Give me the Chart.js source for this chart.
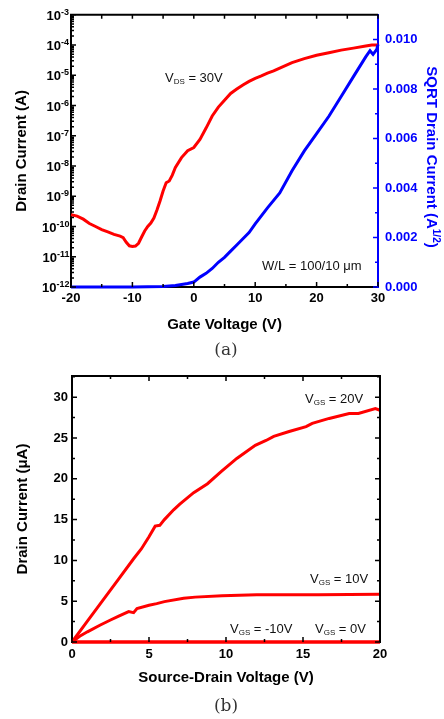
<!DOCTYPE html>
<html>
<head>
<meta charset="utf-8">
<script src="https://cdn.jsdelivr.net/npm/chart.js@4.4.0/dist/chart.umd.min.js"></script>
<style>
body { margin:0; background:#fff; width:444px; height:719px; position:relative; overflow:hidden; }
canvas { position:absolute; left:0; }
#ca { top:0; }
#cb { top:360px; }
.cap { position:absolute; width:444px; text-align:center; font-family:'DejaVu Serif','Liberation Serif',serif; font-size:17px; color:#333; }
</style>
</head>
<body>
<canvas id="ca" width="444" height="360"></canvas>
<canvas id="cb" width="444" height="359"></canvas>
<div class="cap" style="top:339px; left:4px">(a)</div>
<div class="cap" style="top:695px; left:4px">(b)</div>
<script>
// (a) transfer curve, VDS = 30V
var gateV = [-20,-19,-18,-17,-16,-15,-14,-13,-12,-11.5,-11,-10.5,-10,-9.5,-9,-8.5,-8,-7.5,-7,-6.5,-6,-5.5,-5,-4.5,-4,-3.5,-3,-2,-1,0,1,2,3,4,5,6,7,8,9,10,11,12,13,14,16,18,20,22,24,26,28,29,30];
var drainI = [2.45e-10,2.2e-10,1.75e-10,1.26e-10,1.0e-10,7.9e-11,6.6e-11,5.5e-11,4.8e-11,4.3e-11,3.0e-11,2.3e-11,2.2e-11,2.25e-11,2.8e-11,4.5e-11,7.1e-11,1.0e-10,1.3e-10,1.9e-10,3.5e-10,7e-10,1.5e-9,2.8e-9,3.2e-9,5e-9,8.9e-9,1.9e-8,3.2e-8,4.1e-8,7.6e-8,1.8e-7,4.5e-7,8.9e-7,1.5e-6,2.5e-6,3.5e-6,4.8e-6,6.3e-6,7.9e-6,9.5e-6,1.17e-5,1.41e-5,1.74e-5,2.63e-5,3.55e-5,4.57e-5,5.6e-5,6.8e-5,7.9e-5,9.3e-5,1.0e-4,1.0e-4];
var sqrtV = [-20,-10,-5,-3,-2,-1,0,1,2,3,4,5,6,7,8,9,10,12,14,16,18,20,22,24,26,28,28.7,29.2,29.8,30];
var sqrtI = [0,0,0.00002,0.00006,0.0001,0.00014,0.0002,0.0004,0.00055,0.00075,0.001,0.0012,0.00145,0.0017,0.00195,0.0022,0.00255,0.0032,0.0038,0.0047,0.0055,0.0062,0.0069,0.0077,0.0085,0.0093,0.00955,0.0094,0.0096,0.0098];
var gateTicks = [-20,-10,0,10,20,30];
var gateMinor = [-15,-5,5,15,25];
var sqrtTicks = [0,0.002,0.004,0.006,0.008,0.010];
var sqrtMinor = [0.001,0.003,0.005,0.007,0.009];
var logExp = [-12,-11,-10,-9,-8,-7,-6,-5,-4,-3];

// (b) output curves
var vds20 = [0,1,2,3,4,4.5,5,5.4,5.7,6,6.6,7,7.9,8.8,9.7,10.7,11.9,12.6,13.1,14.1,15.2,15.6,16.7,18,18.6,19.7,20];
var id20 = [0,2.55,5.1,7.65,10.2,11.4,12.9,14.2,14.3,15.0,16.2,16.9,18.3,19.4,20.9,22.5,24.1,24.7,25.2,25.8,26.4,26.8,27.4,28.0,28.0,28.6,28.4];
var vds10 = [0,0.5,1,1.84,2.5,3,3.68,4.0,4.22,5,5.5,6,7.25,8,9.74,12,14,16,18,20];
var id10 = [0,0.7,1.25,2.08,2.7,3.15,3.72,3.6,4.1,4.5,4.7,4.95,5.35,5.5,5.67,5.78,5.8,5.8,5.82,5.85];
var vds0 = [0,20];
var id0 = [0,0];
var vdsM10 = [0,20];
var idM10 = [0,0];
var vdsTicks = [0,5,10,15,20];
var vdsMinor = [2.5,7.5,12.5,17.5];
var idTicks = [0,5,10,15,20,25,30];
var idMinor = [2.5,7.5,12.5,17.5,22.5,27.5,32.5];

var FONT = "'Liberation Sans', Arial, sans-serif";
Chart.defaults.font.family = FONT;

function pts(xs, ys) {
  return xs.map(function(x, i) { return {x: x, y: ys[i]}; });
}

function tickMarks(ctx, scale, vals, len, side, color) {
  var a = scale.chart.chartArea;
  ctx.save();
  ctx.strokeStyle = color;
  ctx.lineWidth = 1.5;
  ctx.beginPath();
  vals.forEach(function(v) {
    var p = scale.getPixelForValue(v);
    if (side == 'bottom') { ctx.moveTo(p, a.bottom); ctx.lineTo(p, a.bottom - len); }
    if (side == 'top') { ctx.moveTo(p, a.top); ctx.lineTo(p, a.top + len); }
    if (side == 'left') { ctx.moveTo(a.left, p); ctx.lineTo(a.left + len, p); }
    if (side == 'right') { ctx.moveTo(a.right, p); ctx.lineTo(a.right - len, p); }
  });
  ctx.stroke();
  ctx.restore();
}

// text with sub/superscript parts: [text, 'n'|'sub'|'sup']
function richText(ctx, parts, x, y, size, color, bold) {
  ctx.save();
  ctx.fillStyle = color;
  ctx.textBaseline = 'alphabetic';
  ctx.textAlign = 'left';
  var w = x;
  parts.forEach(function(p) {
    var small = p[1] != 'n';
    ctx.font = (bold ? 'bold ' : '') + (small ? Math.round(size * 0.65) : size) + 'px ' + FONT;
    var dy = p[1] == 'sub' ? 2 : (p[1] == 'sup' ? -6 : 0);
    ctx.fillText(p[0], w, y + dy);
    w += ctx.measureText(p[0]).width;
  });
  ctx.restore();
}

function richWidth(ctx, parts, size, bold) {
  var w = 0;
  parts.forEach(function(p) {
    ctx.font = (bold ? 'bold ' : '') + (p[1] != 'n' ? Math.round(size * 0.65) : size) + 'px ' + FONT;
    w += ctx.measureText(p[0]).width;
  });
  return w;
}

var extrasA = {
  id: 'extrasA',
  afterDraw: function(chart) {
    var ctx = chart.ctx, a = chart.chartArea;
    var sx = chart.scales.x, sy = chart.scales.y, s1 = chart.scales.y1;
    // top frame
    ctx.save();
    ctx.strokeStyle = '#000';
    ctx.lineWidth = 2;
    ctx.beginPath();
    ctx.moveTo(a.left - 1, a.top);
    ctx.lineTo(a.right, a.top);
    ctx.stroke();
    ctx.restore();
    tickMarks(ctx, sx, gateTicks, 5, 'bottom', '#000');
    tickMarks(ctx, sx, gateMinor, 3, 'bottom', '#000');
    tickMarks(ctx, sx, gateTicks.concat(gateMinor), 4, 'top', '#000');
    var major = [], minor = [];
    logExp.forEach(function(e) {
      major.push(Math.pow(10, e));
      if (e < -3) for (var m = 2; m <= 9; m++) minor.push(m * Math.pow(10, e));
    });
    tickMarks(ctx, sy, major, 5, 'left', '#000');
    tickMarks(ctx, sy, minor, 3, 'left', '#000');
    tickMarks(ctx, s1, sqrtTicks, 5, 'right', '#0000ff');
    tickMarks(ctx, s1, sqrtMinor, 3, 'right', '#0000ff');
    // log tick labels 10^n
    logExp.forEach(function(e) {
      var y = sy.getPixelForValue(Math.pow(10, e));
      var parts = [['10', 'n'], [String(e), 'sup']];
      var w = richWidth(ctx, parts, 13, true);
      ctx.save();
      ctx.fillStyle = '#000';
      ctx.font = 'bold 13px ' + FONT;
      var bw = ctx.measureText('10').width;
      ctx.fillText('10', 68 - w, y + 5);
      ctx.font = 'bold 9px ' + FONT;
      ctx.fillText(String(e), 68 - w + bw, y);
      ctx.restore();
    });
    // right axis title, rotated
    var tparts = [['SQRT Drain Current (A', 'n'], ['1/2', 'sup'], [')', 'n']];
    var tw = richWidth(ctx, tparts, 15, true);
    ctx.save();
    ctx.translate(432, 157);
    ctx.rotate(Math.PI / 2);
    richText(ctx, tparts, -tw / 2, 5, 15, '#0000ff', true);
    ctx.restore();
    richText(ctx, [['V', 'n'], ['DS', 'sub'], [' = 30V', 'n']], 165, 82, 13, '#111', false);
    richText(ctx, [['W/L = 100/10 \u03bcm', 'n']], 262, 270, 13, '#111', false);
  }
};

var extrasB = {
  id: 'extrasB',
  afterDraw: function(chart) {
    var ctx = chart.ctx, a = chart.chartArea;
    var sx = chart.scales.x, sy = chart.scales.y;
    ctx.save();
    ctx.strokeStyle = '#000';
    ctx.lineWidth = 2;
    ctx.beginPath();
    ctx.moveTo(a.left - 1, a.top);
    ctx.lineTo(a.right, a.top);
    ctx.lineTo(a.right, a.bottom);
    ctx.stroke();
    ctx.restore();
    tickMarks(ctx, sx, vdsTicks, 5, 'bottom', '#000');
    tickMarks(ctx, sx, vdsMinor, 3, 'bottom', '#000');
    tickMarks(ctx, sx, vdsTicks, 5, 'top', '#000');
    tickMarks(ctx, sx, vdsMinor, 3, 'top', '#000');
    tickMarks(ctx, sy, idTicks, 5, 'left', '#000');
    tickMarks(ctx, sy, idMinor, 3, 'left', '#000');
    tickMarks(ctx, sy, idTicks, 5, 'right', '#000');
    tickMarks(ctx, sy, idMinor, 3, 'right', '#000');
    richText(ctx, [['V', 'n'], ['GS', 'sub'], [' = 20V', 'n']], 305, 43, 13, '#111', false);
    richText(ctx, [['V', 'n'], ['GS', 'sub'], [' = 10V', 'n']], 310, 223, 13, '#111', false);
    richText(ctx, [['V', 'n'], ['GS', 'sub'], [' = -10V', 'n']], 230, 273, 13, '#111', false);
    richText(ctx, [['V', 'n'], ['GS', 'sub'], [' = 0V', 'n']], 315, 273, 13, '#111', false);
  }
};

function lineSet(xs, ys, color, axis) {
  return { data: pts(xs, ys), borderColor: color, borderWidth: 3, pointRadius: 0,
           fill: false, tension: 0, clip: false, yAxisID: axis };
}

var tickFont = { size: 13, weight: 'bold' };
var titleFont = { size: 15, weight: 'bold' };

new Chart(document.getElementById('ca'), {
  type: 'line',
  data: { datasets: [
    lineSet(sqrtV, sqrtI, '#0000ff', 'y1'),
    lineSet(gateV, drainI, '#ff0000', 'y')
  ]},
  options: {
    responsive: false,
    animation: false,
    layout: { padding: { top: 13, left: 0, right: 0, bottom: 0 } },
    plugins: { legend: { display: false }, tooltip: { enabled: false } },
    scales: {
      x: {
        type: 'linear', position: 'bottom', min: -20, max: 30,
        afterBuildTicks: function(s) { s.ticks = gateTicks.map(function(v) { return {value: v}; }); },
        grid: { display: false, drawTicks: false },
        border: { color: '#000', width: 2 },
        ticks: { font: tickFont, color: '#000', padding: 4, maxRotation: 0 },
        title: { display: true, text: 'Gate Voltage (V)', font: titleFont, color: '#000', padding: { top: 0, bottom: 26 } },
        afterFit: function(s) { s.height = 73; }
      },
      y: {
        type: 'logarithmic', position: 'left', min: 1e-12, max: 1e-3,
        grid: { display: false, drawTicks: false },
        border: { color: '#000', width: 2 },
        ticks: { display: false },
        title: { display: true, text: 'Drain Current (A)', font: titleFont, color: '#000', padding: { top: 13, bottom: 0 } },
        afterFit: function(s) { s.width = 71; }
      },
      y1: {
        type: 'linear', position: 'right', min: 0, max: 0.011,
        afterBuildTicks: function(s) { s.ticks = sqrtTicks.map(function(v) { return {value: v}; }); },
        grid: { display: false, drawTicks: false },
        border: { color: '#0000ff', width: 2 },
        ticks: { font: tickFont, color: '#0000ff', padding: 7, callback: function(v) { return v.toFixed(3); } },
        afterFit: function(s) { s.width = 66; }
      }
    }
  },
  plugins: [extrasA]
});

new Chart(document.getElementById('cb'), {
  type: 'line',
  data: { datasets: [
    lineSet(vds20, id20, '#ff0000', 'y'),
    lineSet(vds10, id10, '#ff0000', 'y'),
    lineSet(vds0, id0, '#ff0000', 'y'),
    lineSet(vdsM10, idM10, '#ff0000', 'y')
  ]},
  options: {
    responsive: false,
    animation: false,
    layout: { padding: { top: 16, left: 0, right: 64, bottom: 0 } },
    plugins: { legend: { display: false }, tooltip: { enabled: false } },
    scales: {
      x: {
        type: 'linear', position: 'bottom', min: 0, max: 20,
        afterBuildTicks: function(s) { s.ticks = vdsTicks.map(function(v) { return {value: v}; }); },
        grid: { display: false, drawTicks: false },
        border: { color: '#000', width: 2 },
        ticks: { font: tickFont, color: '#000', padding: 5, maxRotation: 0 },
        title: { display: true, text: 'Source-Drain Voltage (V)', font: titleFont, color: '#000', padding: { top: 0, bottom: 32 } },
        afterFit: function(s) { s.height = 77; }
      },
      y: {
        type: 'linear', position: 'left', min: 0, max: 32.6,
        afterBuildTicks: function(s) { s.ticks = idTicks.map(function(v) { return {value: v}; }); },
        grid: { display: false, drawTicks: false },
        border: { color: '#000', width: 2 },
        ticks: { font: tickFont, color: '#000', padding: 4 },
        title: { display: true, text: 'Drain Current (\u03bcA)', font: titleFont, color: '#000', padding: { top: 14, bottom: 0 } },
        afterFit: function(s) { s.width = 72; }
      }
    }
  },
  plugins: [extrasB]
});
</script>
</body>
</html>
